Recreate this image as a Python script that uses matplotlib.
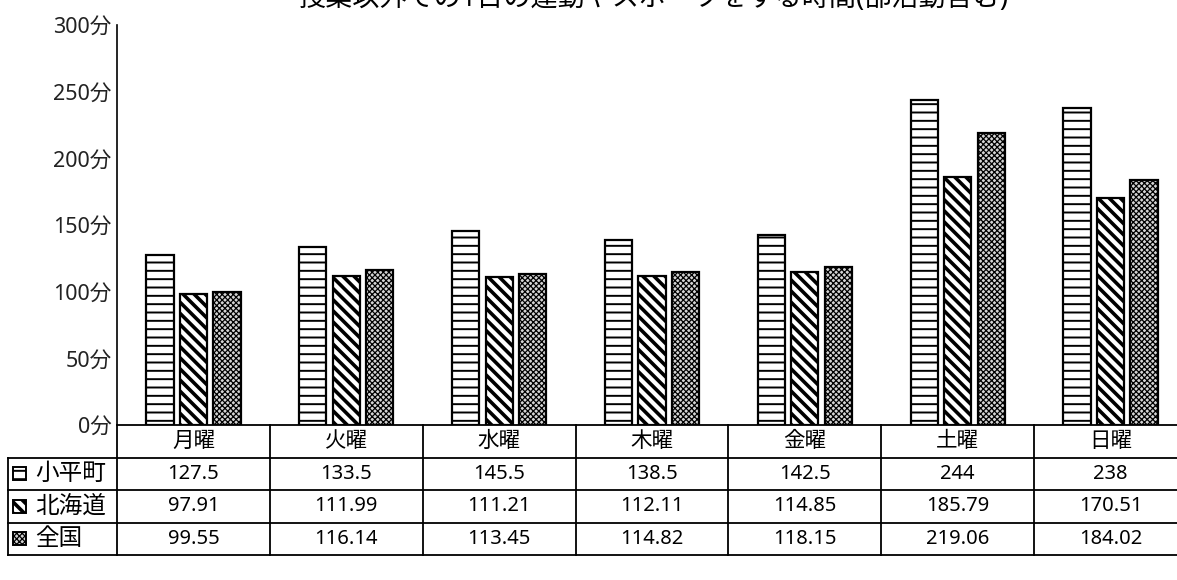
import matplotlib
matplotlib.use("Agg")
import matplotlib.pyplot as plt
from matplotlib.patches import Rectangle

plt.rcParams['font.family'] = ['Noto Sans', 'Noto Sans CJK JP', 'DejaVu Sans']
plt.rcParams['hatch.linewidth'] = 1.4

title = "授業以外での1日の運動やスポーツをする時間(部活動含む)"
days = ["月曜", "火曜", "水曜", "木曜", "金曜", "土曜", "日曜"]
series_names = ["小平町", "北海道", "全国"]
kodaira = [127.5, 133.5, 145.5, 138.5, 142.5, 244, 238]
hokkaido = [97.91, 111.99, 111.21, 112.11, 114.85, 185.79, 170.51]
zenkoku = [99.55, 116.14, 113.45, 114.82, 118.15, 219.06, 184.02]
table_labels = [
    ["127.5", "133.5", "145.5", "138.5", "142.5", "244", "238"],
    ["97.91", "111.99", "111.21", "112.11", "114.85", "185.79", "170.51"],
    ["99.55", "116.14", "113.45", "114.82", "118.15", "219.06", "184.02"],
]
yticks = [0, 50, 100, 150, 200, 250, 300]
ytick_labels = ["0分", "50分", "100分", "150分", "200分", "250分", "300分"]

W, H = 1177, 580
fig = plt.figure(figsize=(W / 100, H / 100), dpi=100)

x0, x1 = 117, 1187
base, top = 425, 25
tab_bottom = 555

ax = fig.add_axes([x0 / W, (H - base) / H, (x1 - x0) / W, (base - top) / H])
tax = fig.add_axes([x0 / W, (H - tab_bottom) / H, (x1 - x0) / W, (tab_bottom - base) / H])

styles = [
    dict(facecolor="white", hatch="--"),
    dict(facecolor="white", hatch="\\\\\\"),
    dict(facecolor="#d4d4d4", hatch="xxxxxx"),
]
hatch_widths = [1.4, 2.6, 0.9]
series = [kodaira, hokkaido, zenkoku]
bw = 0.178
step = 0.219
xs = range(len(days))
for i, (vals, st) in enumerate(zip(series, styles)):
    offs = (i - 1) * step
    bars = ax.bar([x + offs for x in xs], vals, width=bw, edgecolor="black",
                  linewidth=1.6, **st)
    for b in bars:
        try:
            b.set_hatch_linewidth(hatch_widths[i])
        except AttributeError:
            pass

ax.set_xlim(-0.5, len(days) - 0.5)
ax.set_ylim(0, 300)
ax.set_yticks(yticks)
ax.set_yticklabels(ytick_labels, fontsize=15.5, color="#222222")
ax.tick_params(axis="y", length=0, pad=4)
ax.set_xticks([])
for s in ["top", "right", "bottom"]:
    ax.spines[s].set_visible(False)
ax.spines["left"].set_linewidth(1.2)

# data table under the chart
tax.set_xlim(-0.5, len(days) - 0.5)
tax.set_ylim(0, 4)
tax.axis("off")
lw = 1.3
px = 1 / 153.0
left = -0.5 - (x0 - 8) * px
right = len(days) - 0.5
tax.plot([-0.5, right], [4, 4], color="black", lw=lw, clip_on=False)
for yy in [3, 2, 1, 0]:
    tax.plot([left, right], [yy, yy], color="black", lw=lw, clip_on=False)
for k in range(len(days)):
    tax.plot([k - 0.5, k - 0.5], [0, 4], color="black", lw=lw, clip_on=False)
tax.plot([left, left], [0, 3], color="black", lw=lw, clip_on=False)

for k, d in enumerate(days):
    tax.text(k, 3.5, d, ha="center", va="center", fontsize=15.5)
    for r in range(3):
        tax.text(k, 2.5 - r, table_labels[r][k], ha="center", va="center",
                 fontsize=14.5)

for r, (name, st) in enumerate(zip(series_names, styles)):
    yc = 2.5 - r
    key = Rectangle((left + 5 * px, yc - 0.2), 13 * px, 0.4, edgecolor="black",
                    linewidth=1.4, clip_on=False, **st)
    key.set_hatch_linewidth(hatch_widths[r]) if hasattr(key, "set_hatch_linewidth") else None
    tax.add_patch(key)
    tax.text(left + 27 * px, yc, name, ha="left", va="center", fontsize=17)

fig.text(653 / W, 1 + 1 / H, title, ha="center", va="center", fontsize=19.5)

fig.savefig("out.png", dpi=100)
